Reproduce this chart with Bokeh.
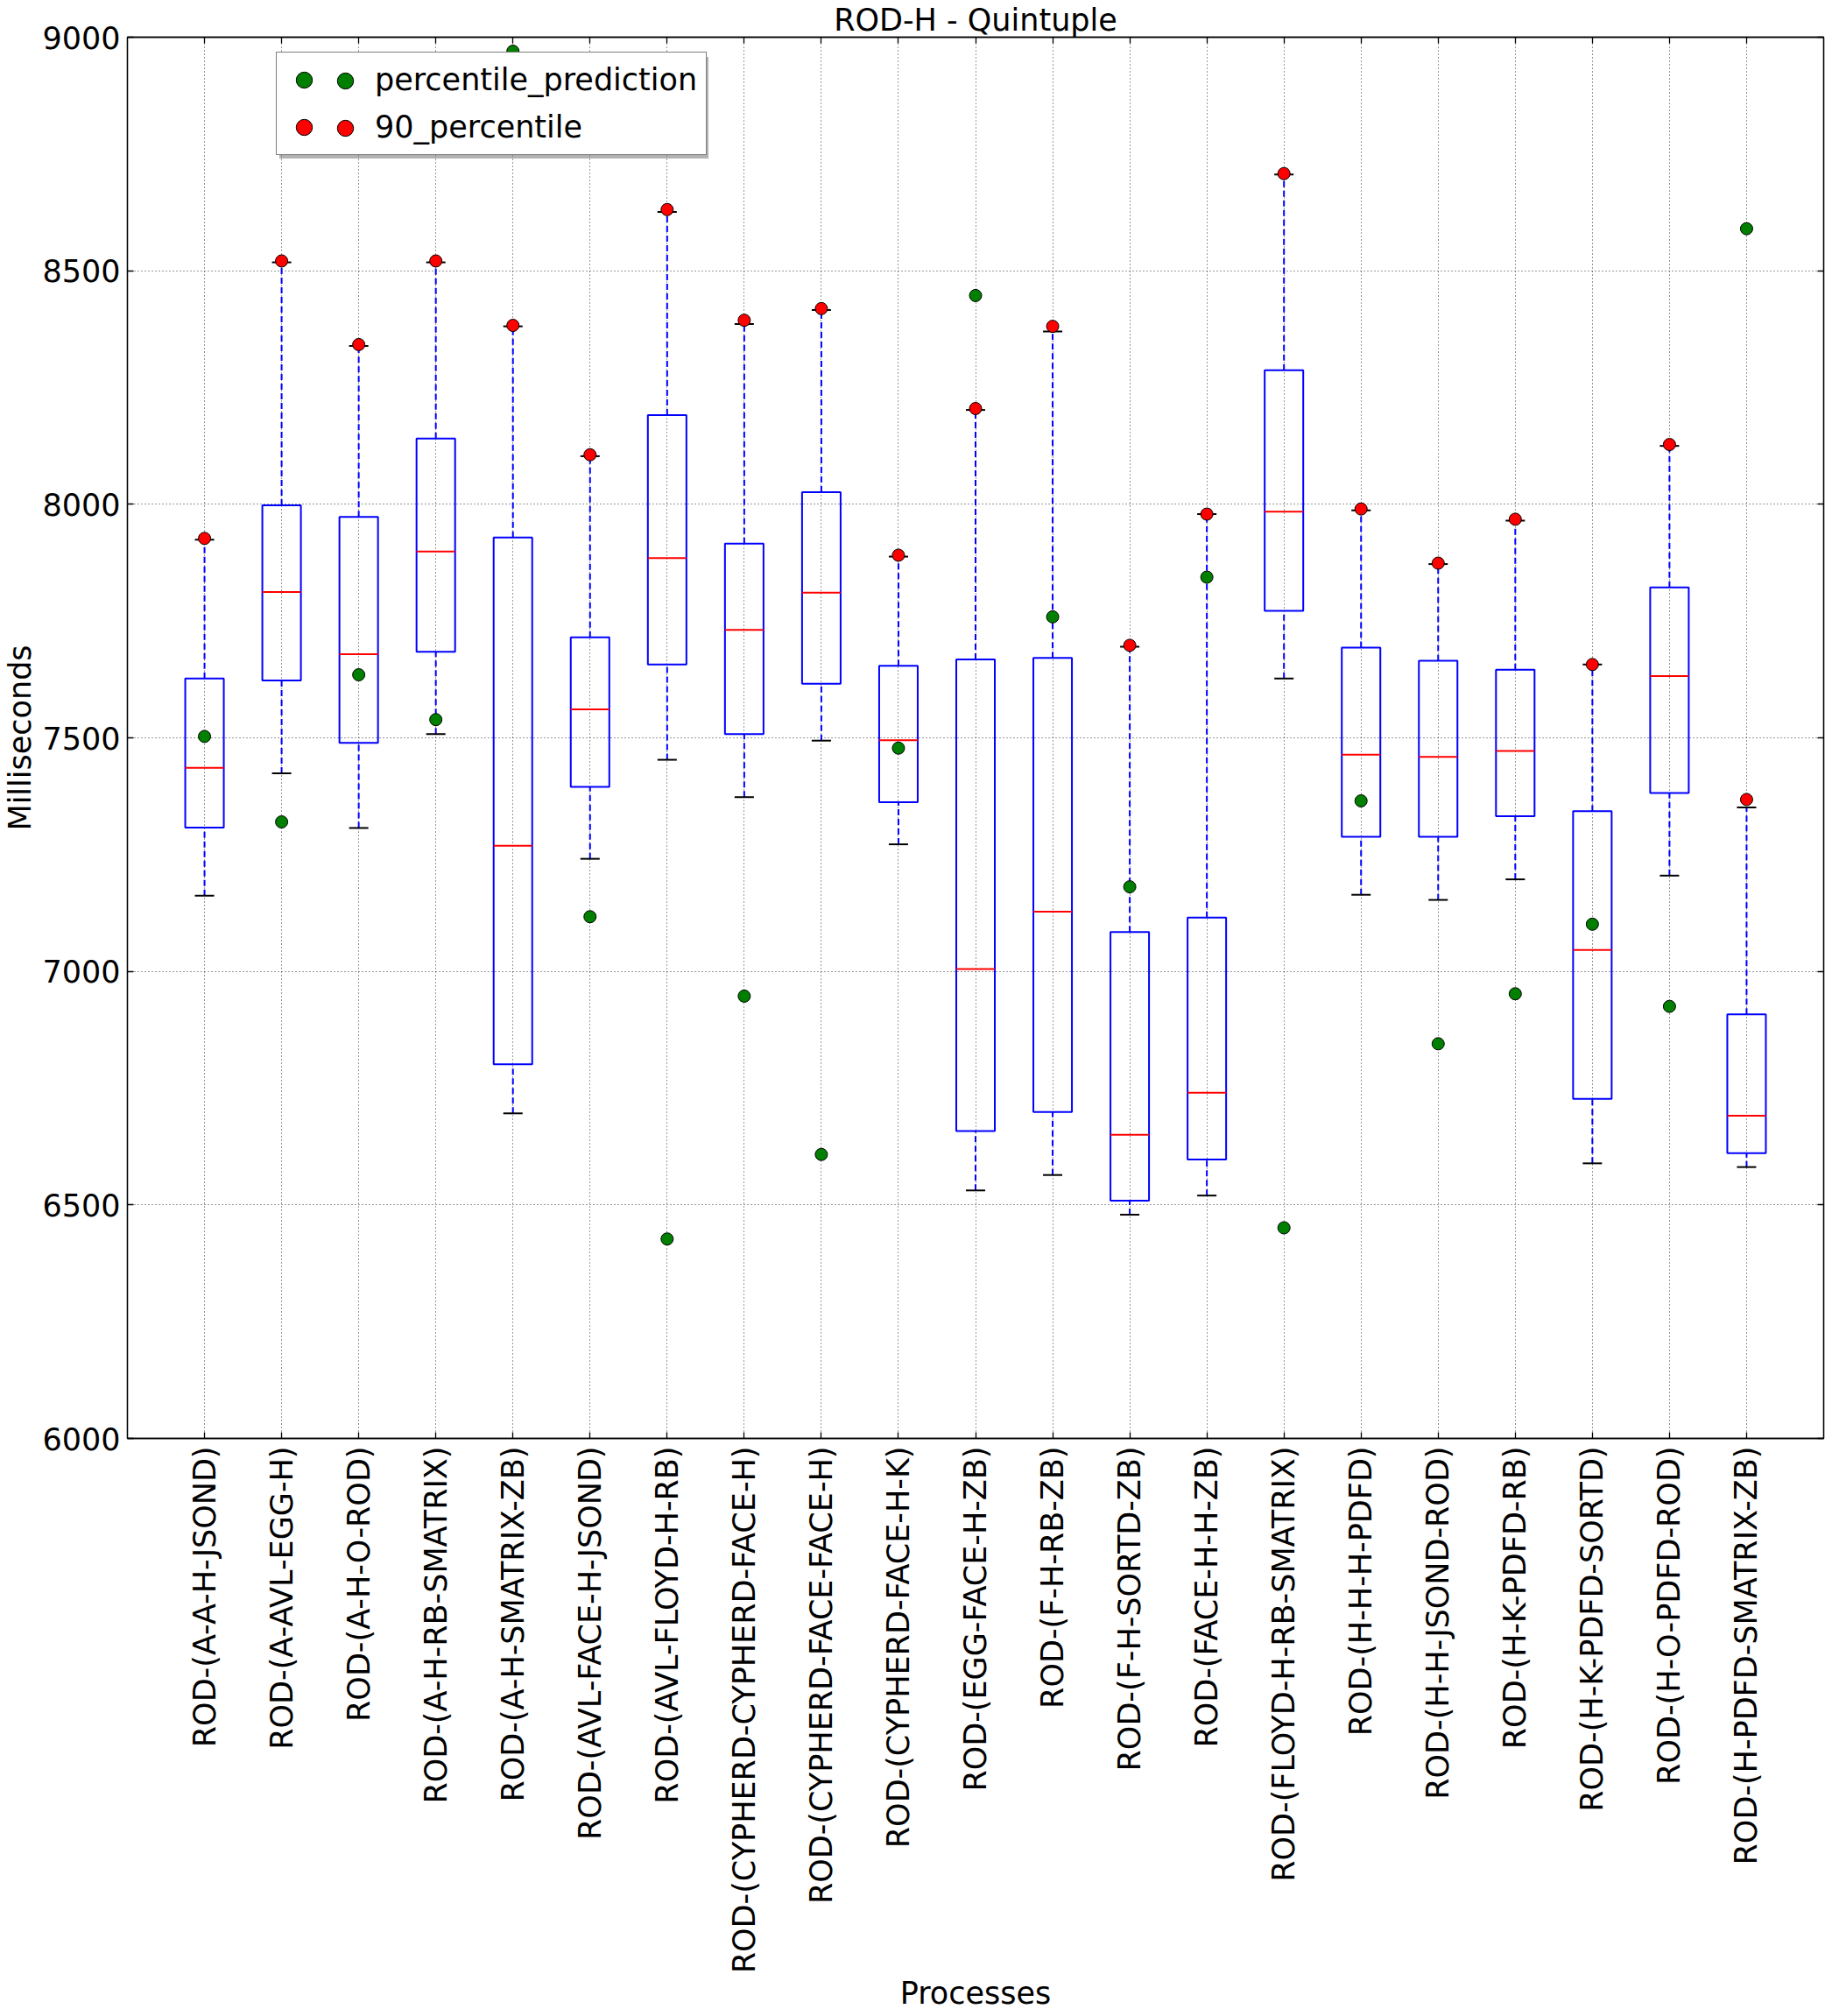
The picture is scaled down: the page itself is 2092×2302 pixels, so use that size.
import math
from bokeh.plotting import figure
from bokeh.models import Range1d, FixedTicker, LinearAxis, ColumnDataSource, Legend, LegendItem
from bokeh.embed import file_html
from bokeh.resources import INLINE

categories = [
    "ROD-(A-A-H-JSOND)", "ROD-(A-AVL-EGG-H)", "ROD-(A-H-O-ROD)", "ROD-(A-H-RB-SMATRIX)",
    "ROD-(A-H-SMATRIX-ZB)", "ROD-(AVL-FACE-H-JSOND)", "ROD-(AVL-FLOYD-H-RB)",
    "ROD-(CYPHERD-CYPHERD-FACE-H)", "ROD-(CYPHERD-FACE-FACE-H)", "ROD-(CYPHERD-FACE-H-K)",
    "ROD-(EGG-FACE-H-ZB)", "ROD-(F-H-RB-ZB)", "ROD-(F-H-SORTD-ZB)", "ROD-(FACE-H-H-ZB)",
    "ROD-(FLOYD-H-RB-SMATRIX)", "ROD-(H-H-H-PDFD)", "ROD-(H-H-JSOND-ROD)", "ROD-(H-K-PDFD-RB)",
    "ROD-(H-K-PDFD-SORTD)", "ROD-(H-O-PDFD-ROD)", "ROD-(H-PDFD-SMATRIX-ZB)",
]
whisker_low = [7162, 7424, 7307, 7508, 6696, 7241, 7453, 7373, 7494, 7272, 6531,
               6564, 6479, 6520, 7627, 7164, 7153, 7197, 6589, 7205, 6581]
q1 = [7308, 7623, 7489, 7684, 6801, 7395, 7657, 7508, 7616, 7362, 6658,
      6699, 6509, 6597, 7772, 7288, 7288, 7332, 6727, 7382, 6611]
median = [7436, 7812, 7679, 7899, 7269, 7561, 7885, 7731, 7811, 7495, 7005,
          7128, 6650, 6740, 7984, 7464, 7459, 7472, 7046, 7632, 6691]
q3 = [7627, 7998, 7973, 8141, 7929, 7715, 8191, 7916, 8026, 7654, 7668,
      7671, 7084, 7115, 8287, 7693, 7665, 7646, 7343, 7822, 6908]
whisker_high = [7924, 8518, 8339, 8518, 8381, 8103, 8626, 8386, 8416, 7888, 8202,
                8370, 7695, 7979, 8706, 7987, 7872, 7965, 7657, 8125, 7351]
percentile_90 = [7927, 8521, 8342, 8521, 8383, 8106, 8631, 8394, 8419, 7891, 8205,
                 8381, 7698, 7979, 8708, 7990, 7874, 7968, 7657, 8128, 7368]
percentile_prediction = [7503, 7320, 7635, 7539, 8970, 7117, 6427, 6947, 6608, 7478, 8447,
                         7759, 7181, 7844, 6451, 7365, 6845, 6952, 7101, 6925, 8590]
y_ticks = [6000, 6500, 7000, 7500, 8000, 8500, 9000]
legend_labels = ["percentile_prediction", "90_percentile"]

pos = [i + 1 for i in range(len(categories))]
BOX_HALF = 0.25
CAP_HALF = 0.125
FONT = "DejaVu Sans"
FS = "35px"
GREEN = "#007f00"
RED = "#ff0000"
BLUE = "#0000ff"

src = ColumnDataSource(dict(
    x=pos,
    left=[x - BOX_HALF for x in pos], right=[x + BOX_HALF for x in pos],
    cl=[x - CAP_HALF for x in pos], cr=[x + CAP_HALF for x in pos],
    lo=whisker_low, q1=q1, med=median, q3=q3, hi=whisker_high,
    p90=percentile_90, pred=percentile_prediction,
))

p = figure(frame_width=1937, frame_height=1600,
           x_range=Range1d(0, len(categories) + 1), y_range=Range1d(6000, 9000),
           output_backend="svg", toolbar_location=None, title="ROD-H - Quintuple",
           min_border_left=137, min_border_right=2, min_border_top=35, min_border_bottom=0)

p.background_fill_color = "white"
p.border_fill_color = "white"
p.outline_line_color = "black"
p.outline_line_width = 1.3

p.title.text_font = FONT
p.title.text_font_size = FS
p.title.text_font_style = "normal"
p.title.text_color = "black"
p.title.align = "center"
p.title.standoff = 0
p.title.text_line_height = 1.0

xticker = FixedTicker(ticks=pos)
yticker = FixedTicker(ticks=y_ticks)

xa = p.xaxis[0]
xa.ticker = xticker
xa.major_label_overrides = {x: c for x, c in zip(pos, categories)}
xa.major_label_orientation = math.pi / 2
xa.axis_label = "Processes"
ya = p.yaxis[0]
ya.ticker = yticker
ya.axis_label = "Milliseconds"

for ax in (xa, ya):
    ax.major_label_text_font = FONT
    ax.major_label_text_font_size = FS
    ax.major_label_text_color = "black"
    ax.axis_label_text_font = FONT
    ax.axis_label_text_font_size = FS
    ax.axis_label_text_font_style = "normal"
    ax.axis_label_text_color = "black"
    ax.major_tick_in = 7
    ax.major_tick_out = 0
    ax.minor_tick_in = 0
    ax.minor_tick_out = 0
    ax.axis_line_color = "black"
    ax.axis_line_width = 1.3
    ax.major_tick_line_color = "black"
    ax.major_tick_line_width = 1.3
xa.major_label_standoff = 9
xa.axis_label_standoff = 0
ya.major_label_standoff = 8
ya.axis_label_standoff = 2

for loc, tk in (("above", xticker), ("right", yticker)):
    ax = LinearAxis(ticker=tk, major_label_text_font_size="0px", major_label_standoff=0,
                    major_tick_in=7, major_tick_out=0, minor_tick_in=0, minor_tick_out=0,
                    axis_line_color="black", axis_line_width=1.3,
                    major_tick_line_color="black", major_tick_line_width=1.3)
    p.add_layout(ax, loc)

for g, tk in ((p.xgrid[0], xticker), (p.ygrid[0], yticker)):
    g.ticker = tk
    g.grid_line_color = "black"
    g.grid_line_alpha = 0.8
    g.grid_line_dash = "1 3"
    g.grid_line_width = 1

# whiskers
p.segment(x0="x", x1="x", y0="q3", y1="hi", source=src, line_color=BLUE,
          line_width=2, line_dash="7 4")
p.segment(x0="x", x1="x", y0="lo", y1="q1", source=src, line_color=BLUE,
          line_width=2, line_dash="7 4")
# caps
p.segment(x0="cl", x1="cr", y0="hi", y1="hi", source=src, line_color="black", line_width=2)
p.segment(x0="cl", x1="cr", y0="lo", y1="lo", source=src, line_color="black", line_width=2)
# boxes
p.quad(left="left", right="right", bottom="q1", top="q3", source=src,
       fill_color=None, line_color=BLUE, line_width=2)
# medians
p.segment(x0="left", x1="right", y0="med", y1="med", source=src, line_color=RED,
          line_width=2)

r_pred = p.scatter(x="x", y="pred", source=src, size=14, fill_color=GREEN,
                   line_color="black", line_width=1)
r_p90 = p.scatter(x="x", y="p90", source=src, size=14, fill_color=RED,
                  line_color="black", line_width=1)

# invisible (empty) renderers used only for the legend shadow
empty = ColumnDataSource(dict(x=[], y=[]))
r_sh1 = p.scatter(x="x", y="y", source=empty, size=14, fill_alpha=0, line_alpha=0)
r_sh2 = p.scatter(x="x", y="y", source=empty, size=14, fill_alpha=0, line_alpha=0)

FRAME_H = 1600
LEG_X = 170          # from frame left
LEG_TOP = 19         # from frame top
LEG_H = 116
PAD = 8
GW = 46
STANDOFF = 58
LABEL_W = 370


def make_legend(items, x, y, **kw):
    opts = dict(location=(x, y), label_text_font=FONT, label_text_font_size=FS,
                label_text_color="black", glyph_width=GW, glyph_height=GW, label_height=GW,
                label_standoff=STANDOFF, padding=PAD, spacing=8, margin=0)
    opts.update(kw)
    lg = Legend(items=items, **opts)
    p.add_layout(lg, "center")
    return lg


# shadow
make_legend([LegendItem(label=" ", renderers=[r_sh1]),
             LegendItem(label=" ", renderers=[r_sh2])],
            LEG_X + 4, FRAME_H - LEG_TOP - LEG_H - 4,
            label_text_font_size="1px", label_width=LABEL_W, border_line_alpha=0,
            background_fill_color="#7f7f7f", background_fill_alpha=0.6)
# main legend (first marker of each row)
make_legend([LegendItem(label=legend_labels[0], renderers=[r_pred]),
             LegendItem(label=legend_labels[1], renderers=[r_p90])],
            LEG_X, FRAME_H - LEG_TOP - LEG_H, label_width=LABEL_W,
            border_line_color="black", border_line_width=1.5,
            background_fill_color="white", background_fill_alpha=1.0)
# second marker of each row
make_legend([LegendItem(label=" ", renderers=[r_pred]),
             LegendItem(label=" ", renderers=[r_p90])],
            LEG_X + 48, FRAME_H - LEG_TOP - LEG_H,
            border_line_alpha=0, background_fill_alpha=0,
            label_standoff=0, label_text_font_size="1px")

open("out.html", "w").write(file_html(p, INLINE))
